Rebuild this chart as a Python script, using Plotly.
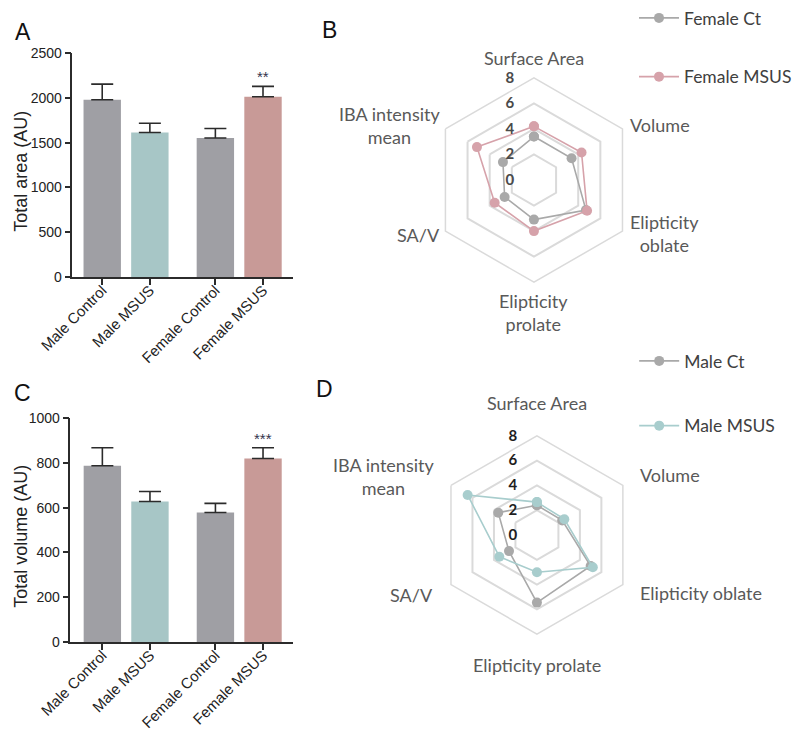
import plotly.graph_objects as go

# ---------------- data ----------------
groups = ["Male Control", "Male MSUS", "Female Control", "Female MSUS"]
area_mean = [1978, 1612, 1552, 2011]
area_sem = [175, 104, 105, 116]
area_sig = ["", "", "", "**"]
volume_mean = [787, 627, 578, 819]
volume_sem = [80, 45, 41, 48]
volume_sig = ["", "", "", "***"]

features = ["Surface Area", "Volume", "Elipticity oblate", "Elipticity prolate", "SA/V", "IBA intensity mean"]
female_ct = [3.4, 3.4, 4.7, 3.1, 2.65, 2.8]
female_msus = [4.2, 4.3, 4.8, 4.0, 3.55, 5.15]
male_ct = [2.4, 2.35, 5.0, 5.45, 2.6, 3.6]
male_msus = [2.65, 2.55, 5.2, 3.0, 3.5, 6.45]
radial_ticks = [0, 2, 4, 6, 8]

# ---------------- style ----------------
W, H = 797, 734
GRAY_BAR = "#9f9fa4"
TEAL_BAR = "#a7c6c6"
PINK_BAR = "#c89a97"
bar_colors = [GRAY_BAR, TEAL_BAR, GRAY_BAR, PINK_BAR]
GRAY_LINE = "#a9a9a9"
PINK_LINE = "#d6a2aa"
TEAL_LINE = "#a8cdcd"
AX = "#2b2b2b"
BAR_FONT = "Liberation Sans"
RADAR_FONT = "Lato"

GAP = 0.375
xpos = [i + (GAP if i >= 2 else 0) for i in range(len(groups))]


def px_x(p):
    return p / W


def px_y(p):
    return 1 - p / H


fig = go.Figure()

# ---------------- bar charts ----------------
for k, (means, sems, sig, xa, ya) in enumerate([
    (area_mean, area_sem, area_sig, "x", "y"),
    (volume_mean, volume_sem, volume_sig, "x2", "y2"),
]):
    fig.add_trace(go.Bar(
        x=xpos, y=means, width=0.785, marker=dict(color=bar_colors, line=dict(width=0)),
        error_y=dict(type="data", array=sems, arrayminus=[0] * len(sems), symmetric=False,
                     color=AX, thickness=1.6, width=11),
        xaxis=xa, yaxis=ya, showlegend=False, hoverinfo="skip"))
    for xp, m, s, t in zip(xpos, means, sems, sig):
        if t:
            fig.add_annotation(x=xp, y=m + s, xref=xa, yref=ya, text=t, showarrow=False,
                               yanchor="bottom", yshift=-1,
                               font=dict(family=BAR_FONT, size=15, color="#33334d"))

axis_common = dict(showline=True, linecolor=AX, linewidth=1.6, ticks="outside", ticklen=6,
                   tickwidth=1.6, tickcolor=AX, showgrid=False, zeroline=False, automargin=False)
ytick_font = dict(family=BAR_FONT, size=14, color="#222")
xtick_font = dict(family=BAR_FONT, size=15, color="#222")
title_font = dict(family=BAR_FONT, size=18, color="#222")

fig.update_layout(
    xaxis=dict(domain=[px_x(73), px_x(295)], range=[-0.625, 4.0], anchor="y",
               tickvals=xpos, ticktext=groups, tickangle=-45, tickfont=xtick_font,
               ticklabelstandoff=-9, **axis_common),
    yaxis=dict(domain=[px_y(277), px_y(53)], range=[0, 2500], anchor="x", dtick=500,
               tickfont=ytick_font, **axis_common),
    xaxis2=dict(domain=[px_x(71), px_x(295)], range=[-0.67, 4.0], anchor="y2",
                tickvals=xpos, ticktext=groups, tickangle=-45, tickfont=xtick_font,
                ticklabelstandoff=-9, **axis_common),
    yaxis2=dict(domain=[px_y(642), px_y(418)], range=[0, 1000], anchor="x2", dtick=200,
                tickfont=ytick_font, **axis_common),
)

# y axis titles
for t, y in [("Total area (AU)", 171), ("Total volume (AU)", 536)]:
    fig.add_annotation(x=px_x(21), y=px_y(y), xref="paper", yref="paper", text=t, textangle=-90,
                       showarrow=False, xanchor="center", yanchor="middle", font=title_font)

# ---------------- radar charts ----------------
def closed(v):
    return list(v) + [v[0]]


radar_specs = [
    ("polar", "legend", [("Female Ct", female_ct, GRAY_LINE), ("Female MSUS", female_msus, PINK_LINE)]),
    ("polar2", "legend2", [("Male Ct", male_ct, GRAY_LINE), ("Male MSUS", male_msus, TEAL_LINE)]),
]
for sub, leg, series in radar_specs:
    for name, vals, col in series:
        fig.add_trace(go.Scatterpolar(
            r=closed(vals), theta=closed(features), mode="lines+markers", name=name,
            line=dict(color=col, width=1.6), marker=dict(color=col, size=10),
            subplot=sub, legend=leg, legendgroup=name, hoverinfo="skip"))


def polar_layout(cx, cy, rad, tickcolor):
    return dict(
        domain=dict(x=[px_x(cx - rad), px_x(cx + rad)], y=[px_y(cy + rad), px_y(cy - rad)]),
        gridshape="linear", bgcolor="white",
        radialaxis=dict(range=[0, 8], tickvals=radial_ticks, angle=90, tickangle=90,
                        side="counterclockwise", showline=False, ticks="outside", ticklen=14,
                        tickcolor="rgba(0,0,0,0)",
                        gridcolor="#dadada", gridwidth=1.5,
                        tickfont=dict(family=RADAR_FONT, size=15, color=tickcolor, weight="bold")),
        angularaxis=dict(categoryorder="array", categoryarray=features, direction="clockwise",
                         rotation=90, showgrid=False, showticklabels=False, ticks="",
                         showline=True, linecolor="#dadada", linewidth=1.5),
    )


fig.update_layout(
    polar=polar_layout(538, 180, 103, "#4a4a4a"),
    polar2=polar_layout(541, 535, 100, "#1e1e1e"),
)

# category labels around the radar charts
LAB = dict(family=RADAR_FONT, size=18, color="#595959")
radar_labels = [
    # (text, x px, y px, xanchor)
    ("Surface Area", 538, 58, "center"),
    ("Volume", 633, 125, "left"),
    ("Elipticity<br>oblate", 633, 233, "left"),
    ("Elipticity<br>prolate", 538, 312, "center"),
    ("SA/V", 445, 235, "right"),
    ("IBA intensity<br>mean", 445, 125, "right"),
    ("Surface Area", 541, 403, "center"),
    ("Volume", 643, 475, "left"),
    ("Elipticity oblate", 643, 593, "left"),
    ("Elipticity prolate", 541, 665, "center"),
    ("SA/V", 438, 595, "right"),
    ("IBA intensity<br>mean", 439, 476, "right"),
]
for t, x, y, xa in radar_labels:
    fig.add_annotation(x=px_x(x), y=px_y(y), xref="paper", yref="paper", text=t, showarrow=False,
                       xanchor=xa, yanchor="middle", align="center", font=LAB)

# panel letters
for t, x, y in [("A", 23, 32), ("B", 332, 30), ("C", 23, 393), ("D", 327, 389)]:
    fig.add_annotation(x=px_x(x), y=px_y(y), xref="paper", yref="paper", text=t, showarrow=False,
                       xanchor="center", yanchor="middle",
                       font=dict(family=BAR_FONT, size=23, color="#111"))

leg_common = dict(xanchor="left", yanchor="top", bgcolor="rgba(0,0,0,0)", traceorder="grouped",
                  font=dict(family=RADAR_FONT, size=17.5, color="#404040"), itemwidth=40)
fig.update_layout(
    legend=dict(x=px_x(639), y=px_y(0), tracegroupgap=33, **leg_common),
    legend2=dict(x=px_x(639), y=px_y(343), tracegroupgap=39, **leg_common),
)

fig.update_layout(width=W, height=H, autosize=False, margin=dict(l=0, r=0, t=0, b=0),
                  paper_bgcolor="white", plot_bgcolor="white", showlegend=True)

fig.write_html("out.html")
